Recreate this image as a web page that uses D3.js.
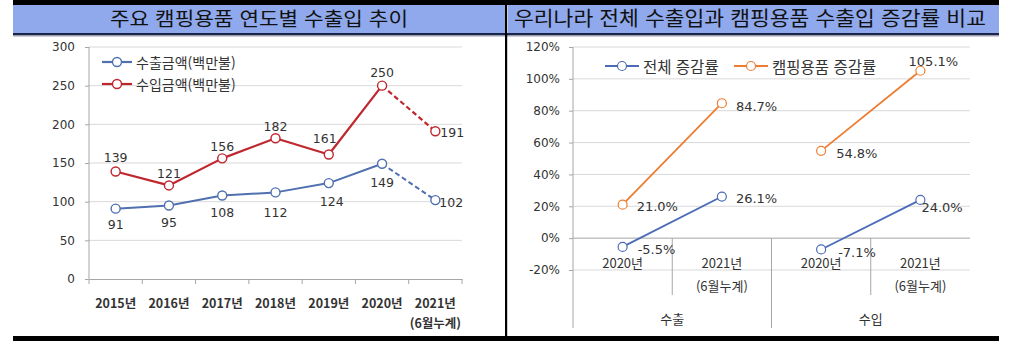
<!DOCTYPE html>
<html lang="ko">
<head>
<meta charset="utf-8">
<script src="https://cdn.jsdelivr.net/npm/d3@7"></script>
<style>
  body { margin: 0; background: #fff; }
  svg { display: block; }
</style>
</head>
<body>
<svg id="chart" width="1024" height="349"></svg>
<script>
// ---- data: 캠핑용품 수출입 (백만불) ----
const years = ["2015년", "2016년", "2017년", "2018년", "2019년", "2020년", "2021년"];
const yearNotes = ["", "", "", "", "", "", "(6월누계)"];
const exportAmounts = [91, 95, 108, 112, 124, 149, 102];
const importAmounts = [139, 121, 156, 182, 161, 250, 191];
const amountTicks = [0, 50, 100, 150, 200, 250, 300];

// ---- data: 증감률 (%) ----
const groups = ["수출", "수입"];
const periods = ["2020년", "2021년"];
const periodNotes = ["", "(6월누계)"];
const totalRates = [[-5.5, 26.1], [-7.1, 24.0]];
const campingRates = [[21.0, 84.7], [54.8, 105.1]];
const rateTicks = [-20, 0, 20, 40, 60, 80, 100, 120];

const KR = "'Noto Sans CJK KR', 'Noto Sans', sans-serif";
const NUM = "'DejaVu Sans', 'Noto Sans', sans-serif";
const svg = d3.select("#chart");

// ---------- frame & headers ----------
svg.append("rect").attr("x", 13).attr("y", 0).attr("width", 986).attr("height", 5).attr("fill", "#000");
svg.append("rect").attr("x", 13).attr("y", 5).attr("width", 492).attr("height", 28).attr("fill", "#8FA9EC");
svg.append("rect").attr("x", 508).attr("y", 5).attr("width", 491).attr("height", 28).attr("fill", "#8FA9EC");
svg.append("rect").attr("x", 13).attr("y", 33).attr("width", 986).attr("height", 2).attr("fill", "#1C2448");
svg.append("rect").attr("x", 13).attr("y", 35).attr("width", 986).attr("height", 1.5).attr("fill", "#9AA0B0");
svg.append("rect").attr("x", 505).attr("y", 0).attr("width", 2.2).attr("height", 338).attr("fill", "#000");
svg.append("rect").attr("x", 13).attr("y", 336).attr("width", 986).attr("height", 5).attr("fill", "#000");

svg.append("text").attr("x", 259).attr("y", 26).attr("text-anchor", "middle")
  .attr("font-family", KR).attr("font-size", 19).attr("fill", "#111")
  .attr("textLength", 298).attr("lengthAdjust", "spacingAndGlyphs")
  .text("주요 캠핑용품 연도별 수출입 추이");
svg.append("text").attr("x", 750).attr("y", 26).attr("text-anchor", "middle")
  .attr("font-family", KR).attr("font-size", 20).attr("fill", "#111")
  .attr("textLength", 472).attr("lengthAdjust", "spacingAndGlyphs")
  .text("우리나라 전체 수출입과 캠핑용품 수출입 증감률 비교");

// ---------- left chart: 연도별 수출입 ----------
const xL = d3.scaleBand().domain(years).range([89, 462]);
const yL = d3.scaleLinear().domain([0, 300]).range([279, 47]);
const gL = svg.append("g");

gL.selectAll(".grid").data(amountTicks.filter(d => d > 0)).join("line")
  .attr("x1", 89).attr("x2", 462).attr("y1", d => yL(d)).attr("y2", d => yL(d))
  .attr("stroke", "#D9D9D9").attr("stroke-width", 1);

const yAxisL = gL.append("g").attr("transform", "translate(89,0)")
  .call(d3.axisLeft(yL).tickValues(amountTicks).tickSize(4).tickPadding(10));
const xAxisL = gL.append("g").attr("transform", "translate(0,279)")
  .call(d3.axisBottom(xL).tickSize(0).tickFormat(""));
[yAxisL, xAxisL].forEach(a => {
  a.select(".domain").attr("stroke", "#A6A6A6");
  a.selectAll(".tick line").attr("stroke", "#A6A6A6");
});
yAxisL.selectAll("text").attr("font-family", NUM).attr("font-size", 12).attr("fill", "#333");
yAxisL.select(".domain").attr("d", "M0,47V279");

// band boundary ticks on category axis
gL.selectAll(".xtick").data(d3.range(years.length + 1)).join("line")
  .attr("x1", i => 89 + i * xL.step()).attr("x2", i => 89 + i * xL.step())
  .attr("y1", 279).attr("y2", 284).attr("stroke", "#A6A6A6");

gL.selectAll(".xlab").data(years).join("text")
  .attr("x", d => xL(d) + xL.bandwidth() / 2).attr("y", 302)
  .attr("text-anchor", "middle").attr("dominant-baseline", "central")
  .attr("font-family", KR).attr("font-size", 12.5)
  .attr("font-weight", "bold").attr("fill", "#333").text(d => d);
gL.selectAll(".xnote").data(years.filter((d, i) => yearNotes[i])).join("text")
  .attr("x", d => xL(d) + xL.bandwidth() / 2).attr("y", 322)
  .attr("text-anchor", "middle").attr("dominant-baseline", "central")
  .attr("font-family", KR).attr("font-size", 12.5)
  .attr("font-weight", "bold").attr("fill", "#333")
  .text(d => yearNotes[years.indexOf(d)]);

const cx = d => xL(d) + xL.bandwidth() / 2;

function drawSeries(values, color, width, labelPos) {
  const pts = values.map((v, i) => [cx(years[i]), yL(v)]);
  const line = d3.line();
  gL.append("path").attr("d", line(pts.slice(0, 6))).attr("fill", "none")
    .attr("stroke", color).attr("stroke-width", width).attr("stroke-linejoin", "round");
  gL.append("path").attr("d", line(pts.slice(5))).attr("fill", "none")
    .attr("stroke", color).attr("stroke-width", width).attr("stroke-dasharray", "5,3");
  gL.selectAll(null).data(values).join("circle")
    .attr("cx", (v, i) => cx(years[i])).attr("cy", v => yL(v)).attr("r", 4.5)
    .attr("fill", "#fff").attr("stroke", color).attr("stroke-width", 1.4);
  gL.selectAll(null).data(values).join("text")
    .attr("x", (v, i) => cx(years[i]) + labelPos[i][0])
    .attr("y", (v, i) => yL(v) + labelPos[i][1])
    .attr("text-anchor", (v, i) => labelPos[i][2] || "middle")
    .attr("dominant-baseline", "central")
    .attr("font-family", NUM).attr("font-size", 12.5).attr("fill", "#333")
    .text(v => v);
}

// label offsets [dx, dy, anchor]
const importLabelPos = [[0, -14], [0, -12], [0, -12], [0, -12], [-4, -16], [0, -13], [5, 1, "start"]];
const exportLabelPos = [[0, 16], [0, 17], [0, 17], [0, 20], [3, 18], [0, 19], [4, 2, "start"]];
drawSeries(exportAmounts, "#5070B0", 2, exportLabelPos);
drawSeries(importAmounts, "#C0262D", 2.2, importLabelPos);

// legend
const legL = [["수출금액(백만불)", "#5070B0"], ["수입금액(백만불)", "#C0262D"]];
legL.forEach(([name, color], i) => {
  const y = 62 + i * 22;
  gL.append("line").attr("x1", 102).attr("x2", 132).attr("y1", y).attr("y2", y)
    .attr("stroke", color).attr("stroke-width", 2.2);
  gL.append("circle").attr("cx", 117).attr("cy", y).attr("r", 4.5)
    .attr("fill", "#fff").attr("stroke", color).attr("stroke-width", 1.4);
  gL.append("text").attr("x", 136).attr("y", y).attr("dominant-baseline", "central")
    .attr("font-family", KR).attr("font-size", 14).attr("fill", "#333").text(name);
});

// ---------- right chart: 증감률 비교 ----------
const cats = groups.flatMap(g => periods.map(p => g + "|" + p));
const xR = d3.scaleBand().domain(cats).range([573, 970]);
const yR = d3.scaleLinear().domain([-20, 120]).range([270, 47]);
const gR = svg.append("g");
const ccx = (gi, pi) => xR(groups[gi] + "|" + periods[pi]) + xR.bandwidth() / 2;

gR.selectAll(".grid").data(rateTicks.filter(d => d !== 0)).join("line")
  .attr("x1", 573).attr("x2", 970).attr("y1", d => yR(d)).attr("y2", d => yR(d))
  .attr("stroke", "#D9D9D9").attr("stroke-width", 1);

const yAxisR = gR.append("g").attr("transform", "translate(573,0)")
  .call(d3.axisLeft(yR).tickValues(rateTicks).tickSize(4).tickPadding(9).tickFormat(d => d + "%"));
yAxisR.select(".domain").attr("d", "M0,47V328").attr("stroke", "#A6A6A6");
yAxisR.selectAll(".tick line").attr("stroke", "#A6A6A6");
yAxisR.selectAll("text").attr("font-family", NUM).attr("font-size", 12).attr("fill", "#333");

// category axis at 0%
gR.append("line").attr("x1", 573).attr("x2", 970).attr("y1", yR(0)).attr("y2", yR(0))
  .attr("stroke", "#A6A6A6");
// period separators and group labels
groups.forEach((g, gi) => {
  const mid = xR(g + "|" + periods[1]);
  gR.append("line").attr("x1", mid).attr("x2", mid).attr("y1", yR(0)).attr("y2", 295)
    .attr("stroke", "#A6A6A6");
  gR.append("text").attr("x", mid).attr("y", 318).attr("text-anchor", "middle")
    .attr("dominant-baseline", "central").attr("font-family", KR).attr("font-size", 13)
    .attr("fill", "#333").text(g);
  periods.forEach((p, pi) => {
    gR.append("text").attr("x", ccx(gi, pi)).attr("y", 262).attr("text-anchor", "middle")
      .attr("dominant-baseline", "central").attr("font-family", KR).attr("font-size", 13)
      .attr("fill", "#333").text(p);
    if (periodNotes[pi]) {
      gR.append("text").attr("x", ccx(gi, pi)).attr("y", 285).attr("text-anchor", "middle")
        .attr("dominant-baseline", "central").attr("font-family", KR).attr("font-size", 13)
        .attr("fill", "#333").text(periodNotes[pi]);
    }
  });
});
const sep = xR(groups[1] + "|" + periods[0]);
gR.append("line").attr("x1", sep).attr("x2", sep).attr("y1", yR(0)).attr("y2", 328)
  .attr("stroke", "#A6A6A6");

function drawRates(rates, color, labelPos) {
  rates.forEach((pair, gi) => {
    const pts = pair.map((v, pi) => [ccx(gi, pi), yR(v)]);
    gR.append("path").attr("d", d3.line()(pts)).attr("fill", "none")
      .attr("stroke", color).attr("stroke-width", 1.8);
    pair.forEach((v, pi) => {
      gR.append("circle").attr("cx", ccx(gi, pi)).attr("cy", yR(v)).attr("r", 4.5)
        .attr("fill", "#fff").attr("stroke", color).attr("stroke-width", 1.2);
      const [dx, dy, anchor] = labelPos[gi][pi];
      gR.append("text").attr("x", ccx(gi, pi) + dx).attr("y", yR(v) + dy)
        .attr("text-anchor", anchor || "start").attr("dominant-baseline", "central")
        .attr("font-family", NUM).attr("font-size", 13).attr("fill", "#333")
        .text(v.toFixed(1) + "%");
    });
  });
}
const totalLabelPos = [[[15, 3], [14, 2]], [[17, 3], [1, 8]]];
const campingLabelPos = [[[14, 2], [14, 3]], [[15, 3], [13, -9, "middle"]]];
drawRates(totalRates, "#4A6BB5", totalLabelPos);
drawRates(campingRates, "#ED7D31", campingLabelPos);

// legend
const legR = [["전체 증감률", "#4A6BB5", 605], ["캠핑용품 증감률", "#ED7D31", 734]];
legR.forEach(([name, color, x0]) => {
  const y = 66;
  gR.append("line").attr("x1", x0).attr("x2", x0 + 34).attr("y1", y).attr("y2", y)
    .attr("stroke", color).attr("stroke-width", 2);
  gR.append("circle").attr("cx", x0 + 17).attr("cy", y).attr("r", 4.5)
    .attr("fill", "#fff").attr("stroke", color).attr("stroke-width", 1.2);
  gR.append("text").attr("x", x0 + 38).attr("y", y).attr("dominant-baseline", "central")
    .attr("font-family", KR).attr("font-size", 15.5).attr("fill", "#333").text(name);
});
</script>
</body>
</html>
